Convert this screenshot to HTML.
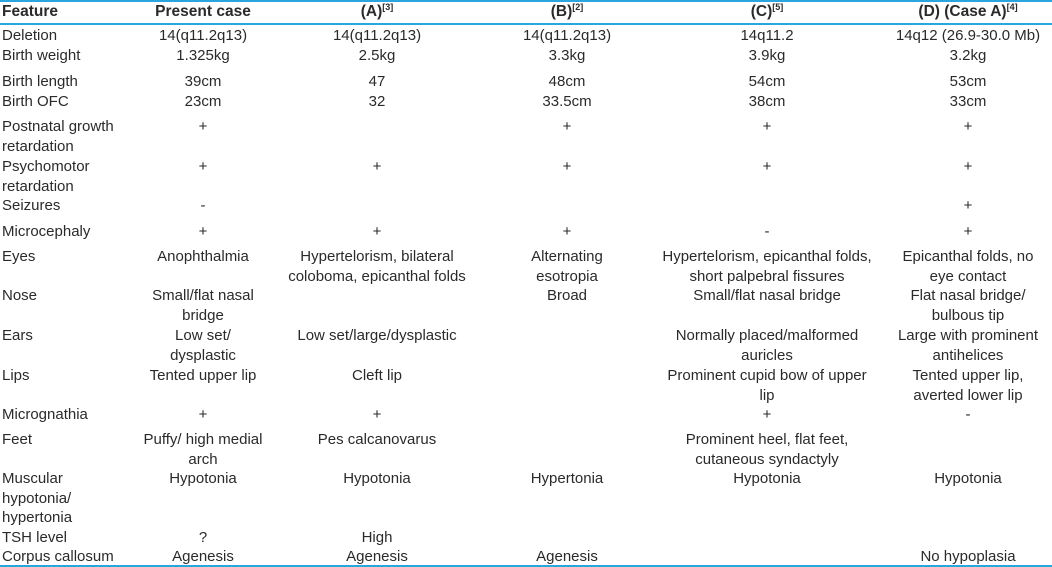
<!DOCTYPE html>
<html><head><meta charset="utf-8"><style>
body{margin:0;width:1052px;height:567px;background:#fff;position:relative;overflow:hidden;font-family:"Liberation Sans",sans-serif;font-size:15px;color:#2a2a2a}
.t{position:absolute;line-height:19.7px;white-space:nowrap;margin-top:0px}
.c{transform:translateX(-50%)}
.h{font-weight:bold;font-size:15.5px}
sup{font-size:9px;vertical-align:6px;line-height:0}
.ln{position:absolute;left:0;width:1052px;height:2px;background:#2aa6df}
</style></head><body>
<div class="ln" style="top:0"></div>
<div class="ln" style="top:23px"></div>
<div class="ln" style="top:565px"></div>
<div class="t h" style="left:2px;top:2px">Feature</div>
<div class="t h c" style="left:203px;top:2px">Present case</div>
<div class="t h c" style="left:377px;top:2px">(A)<sup>[3]</sup></div>
<div class="t h c" style="left:567px;top:2px">(B)<sup>[2]</sup></div>
<div class="t h c" style="left:767px;top:2px">(C)<sup>[5]</sup></div>
<div class="t h c" style="left:968px;top:2px">(D) (Case A)<sup>[4]</sup></div>

<div class="t" style="left:2px;top:26px">Deletion</div>
<div class="t c" style="left:203px;top:26px">14(q11.2q13)</div>
<div class="t c" style="left:377px;top:26px">14(q11.2q13)</div>
<div class="t c" style="left:567px;top:26px">14(q11.2q13)</div>
<div class="t c" style="left:767px;top:26px">14q11.2</div>
<div class="t c" style="left:968px;top:26px">14q12 (26.9-30.0 Mb)</div>

<div class="t" style="left:2px;top:46px">Birth weight</div>
<div class="t c" style="left:203px;top:46px">1.325kg</div>
<div class="t c" style="left:377px;top:46px">2.5kg</div>
<div class="t c" style="left:567px;top:46px">3.3kg</div>
<div class="t c" style="left:767px;top:46px">3.9kg</div>
<div class="t c" style="left:968px;top:46px">3.2kg</div>

<div class="t" style="left:2px;top:72px">Birth length</div>
<div class="t c" style="left:203px;top:72px">39cm</div>
<div class="t c" style="left:377px;top:72px">47</div>
<div class="t c" style="left:567px;top:72px">48cm</div>
<div class="t c" style="left:767px;top:72px">54cm</div>
<div class="t c" style="left:968px;top:72px">53cm</div>

<div class="t" style="left:2px;top:92px">Birth OFC</div>
<div class="t c" style="left:203px;top:92px">23cm</div>
<div class="t c" style="left:377px;top:92px">32</div>
<div class="t c" style="left:567px;top:92px">33.5cm</div>
<div class="t c" style="left:767px;top:92px">38cm</div>
<div class="t c" style="left:968px;top:92px">33cm</div>

<div class="t" style="left:2px;top:117px">Postnatal growth<br>retardation</div>
<div class="t c" style="left:203px;top:117px">+</div>
<div class="t c" style="left:567px;top:117px">+</div>
<div class="t c" style="left:767px;top:117px">+</div>
<div class="t c" style="left:968px;top:117px">+</div>

<div class="t" style="left:2px;top:157px">Psychomotor<br>retardation</div>
<div class="t c" style="left:203px;top:157px">+</div>
<div class="t c" style="left:377px;top:157px">+</div>
<div class="t c" style="left:567px;top:157px">+</div>
<div class="t c" style="left:767px;top:157px">+</div>
<div class="t c" style="left:968px;top:157px">+</div>

<div class="t" style="left:2px;top:196px">Seizures</div>
<div class="t c" style="left:203px;top:196px">-</div>
<div class="t c" style="left:968px;top:196px">+</div>

<div class="t" style="left:2px;top:222px">Microcephaly</div>
<div class="t c" style="left:203px;top:222px">+</div>
<div class="t c" style="left:377px;top:222px">+</div>
<div class="t c" style="left:567px;top:222px">+</div>
<div class="t c" style="left:767px;top:222px">-</div>
<div class="t c" style="left:968px;top:222px">+</div>

<div class="t" style="left:2px;top:247px">Eyes</div>
<div class="t c" style="left:203px;top:247px">Anophthalmia</div>
<div class="t c" style="left:377px;top:247px;text-align:center">Hypertelorism, bilateral<br>coloboma, epicanthal folds</div>
<div class="t c" style="left:567px;top:247px;text-align:center">Alternating<br>esotropia</div>
<div class="t c" style="left:767px;top:247px;text-align:center">Hypertelorism, epicanthal folds,<br>short palpebral fissures</div>
<div class="t c" style="left:968px;top:247px;text-align:center">Epicanthal folds, no<br>eye contact</div>

<div class="t" style="left:2px;top:286px">Nose</div>
<div class="t c" style="left:203px;top:286px;text-align:center">Small/flat nasal<br>bridge</div>
<div class="t c" style="left:567px;top:286px">Broad</div>
<div class="t c" style="left:767px;top:286px">Small/flat nasal bridge</div>
<div class="t c" style="left:968px;top:286px;text-align:center">Flat nasal bridge/<br>bulbous tip</div>

<div class="t" style="left:2px;top:326px">Ears</div>
<div class="t c" style="left:203px;top:326px;text-align:center">Low set/<br>dysplastic</div>
<div class="t c" style="left:377px;top:326px">Low set/large/dysplastic</div>
<div class="t c" style="left:767px;top:326px;text-align:center">Normally placed/malformed<br>auricles</div>
<div class="t c" style="left:968px;top:326px;text-align:center">Large with prominent<br>antihelices</div>

<div class="t" style="left:2px;top:366px">Lips</div>
<div class="t c" style="left:203px;top:366px">Tented upper lip</div>
<div class="t c" style="left:377px;top:366px">Cleft lip</div>
<div class="t c" style="left:767px;top:366px;text-align:center">Prominent cupid bow of upper<br>lip</div>
<div class="t c" style="left:968px;top:366px;text-align:center">Tented upper lip,<br>averted lower lip</div>

<div class="t" style="left:2px;top:405px">Micrognathia</div>
<div class="t c" style="left:203px;top:405px">+</div>
<div class="t c" style="left:377px;top:405px">+</div>
<div class="t c" style="left:767px;top:405px">+</div>
<div class="t c" style="left:968px;top:405px">-</div>

<div class="t" style="left:2px;top:430px">Feet</div>
<div class="t c" style="left:203px;top:430px;text-align:center">Puffy/ high medial<br>arch</div>
<div class="t c" style="left:377px;top:430px">Pes calcanovarus</div>
<div class="t c" style="left:767px;top:430px;text-align:center">Prominent heel, flat feet,<br>cutaneous syndactyly</div>

<div class="t" style="left:2px;top:469px">Muscular<br>hypotonia/<br>hypertonia</div>
<div class="t c" style="left:203px;top:469px">Hypotonia</div>
<div class="t c" style="left:377px;top:469px">Hypotonia</div>
<div class="t c" style="left:567px;top:469px">Hypertonia</div>
<div class="t c" style="left:767px;top:469px">Hypotonia</div>
<div class="t c" style="left:968px;top:469px">Hypotonia</div>

<div class="t" style="left:2px;top:528px">TSH level</div>
<div class="t c" style="left:203px;top:528px">?</div>
<div class="t c" style="left:377px;top:528px">High</div>

<div class="t" style="left:2px;top:547px">Corpus callosum</div>
<div class="t c" style="left:203px;top:547px">Agenesis</div>
<div class="t c" style="left:377px;top:547px">Agenesis</div>
<div class="t c" style="left:567px;top:547px">Agenesis</div>
<div class="t c" style="left:968px;top:547px">No hypoplasia</div>
</body></html>
